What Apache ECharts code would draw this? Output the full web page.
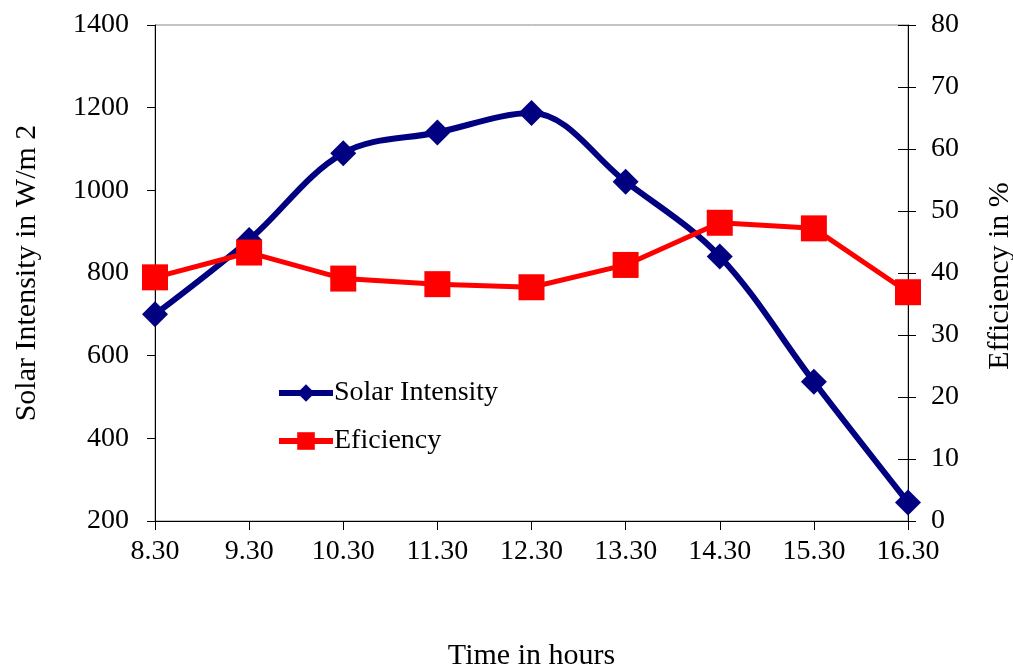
<!DOCTYPE html>
<html>
<head>
<meta charset="utf-8">
<script src="https://cdn.jsdelivr.net/npm/echarts@6/dist/echarts.min.js"></script>
<style>
html,body{margin:0;padding:0;background:#fff;}
#c{width:1013px;height:666px;}
</style>
</head>
<body>
<div id="c"></div>
<script>
var categories = ['8.30','9.30','10.30','11.30','12.30','13.30','14.30','15.30','16.30'];
var solarIntensity = [700, 880, 1090, 1140, 1187, 1021, 840, 537, 245];
var efficiency = [39.3, 43.3, 39.1, 38.2, 37.7, 41.3, 48.1, 47.2, 36.9];
var leftTicks = {min: 200, max: 1400, interval: 200};
var rightTicks = {min: 0, max: 80, interval: 10};

var FONT = '"Liberation Serif", "Times New Roman", serif';
var chart = echarts.init(document.getElementById('c'));
chart.setOption({
  animation: false,
  backgroundColor: '#fff',
  textStyle: {fontFamily: FONT, color: '#000'},
  grid: {left: 155, right: 105, top: 25, bottom: 145, show: true, borderColor: '#888', borderWidth: 1,
         outerBoundsMode: 'none', containLabel: false},
  legend: {
    orient: 'vertical', left: 271, top: 374, itemGap: 20, padding: 5,
    itemWidth: 54, itemHeight: 22,
    lineStyle: {width: 6},
    textStyle: {fontFamily: FONT, fontSize: 28, color: '#000', padding: [0, 0, 0, -4]},
    data: ['Solar Intensity', 'Eficiency']
  },
  xAxis: {
    type: 'category', data: categories, boundaryGap: false,
    name: 'Time in hours', nameLocation: 'middle', nameGap: 120,
    nameTextStyle: {fontFamily: FONT, fontSize: 30, color: '#000'},
    axisLine: {lineStyle: {color: '#000', width: 1}},
    axisTick: {show: true, length: 9, alignWithLabel: true, lineStyle: {color: '#000'}},
    axisLabel: {fontFamily: FONT, fontSize: 28, color: '#000', margin: 17, interval: 0},
    splitLine: {show: false}
  },
  yAxis: [
    {
      type: 'value', position: 'left', min: leftTicks.min, max: leftTicks.max, interval: leftTicks.interval,
      name: 'Solar Intensity in W/m 2', nameLocation: 'middle', nameGap: 113, nameRotate: 90,
      nameTextStyle: {fontFamily: FONT, fontSize: 30, color: '#000'},
      axisLine: {show: true, lineStyle: {color: '#000', width: 1}},
      axisTick: {show: true, length: 8, lineStyle: {color: '#000'}},
      axisLabel: {fontFamily: FONT, fontSize: 28, color: '#000', margin: 26,
                  formatter: function (v) { return String(v); }},
      splitLine: {show: false}
    },
    {
      type: 'value', position: 'right', min: rightTicks.min, max: rightTicks.max, interval: rightTicks.interval,
      name: 'Efficiency in %', nameLocation: 'middle', nameGap: 77, nameRotate: 90,
      nameTextStyle: {fontFamily: FONT, fontSize: 30, color: '#000', padding: [0, 6, 0, 0]},
      axisLine: {show: true, lineStyle: {color: '#000', width: 1}},
      axisTick: {show: true, length: 8, lineStyle: {color: '#000'}},
      axisLabel: {fontFamily: FONT, fontSize: 28, color: '#000', margin: 23},
      splitLine: {show: false}
    },
    {
      type: 'value', position: 'right', offset: 0, min: rightTicks.min, max: rightTicks.max, interval: rightTicks.interval,
      axisLine: {show: false},
      axisTick: {show: true, inside: true, length: 10, lineStyle: {color: '#000'}},
      axisLabel: {show: false},
      splitLine: {show: false}
    }
  ],
  series: [
    {
      name: 'Solar Intensity', type: 'line', yAxisIndex: 0, data: solarIntensity,
      smooth: 0.35, symbol: 'diamond', symbolSize: 26,
      lineStyle: {color: '#000080', width: 6},
      itemStyle: {color: '#000080'}
    },
    {
      name: 'Eficiency', type: 'line', yAxisIndex: 1, data: efficiency,
      smooth: false, symbol: 'rect', symbolSize: 26,
      lineStyle: {color: '#ff0000', width: 5},
      itemStyle: {color: '#ff0000'}
    }
  ]
});
</script>
</body>
</html>
